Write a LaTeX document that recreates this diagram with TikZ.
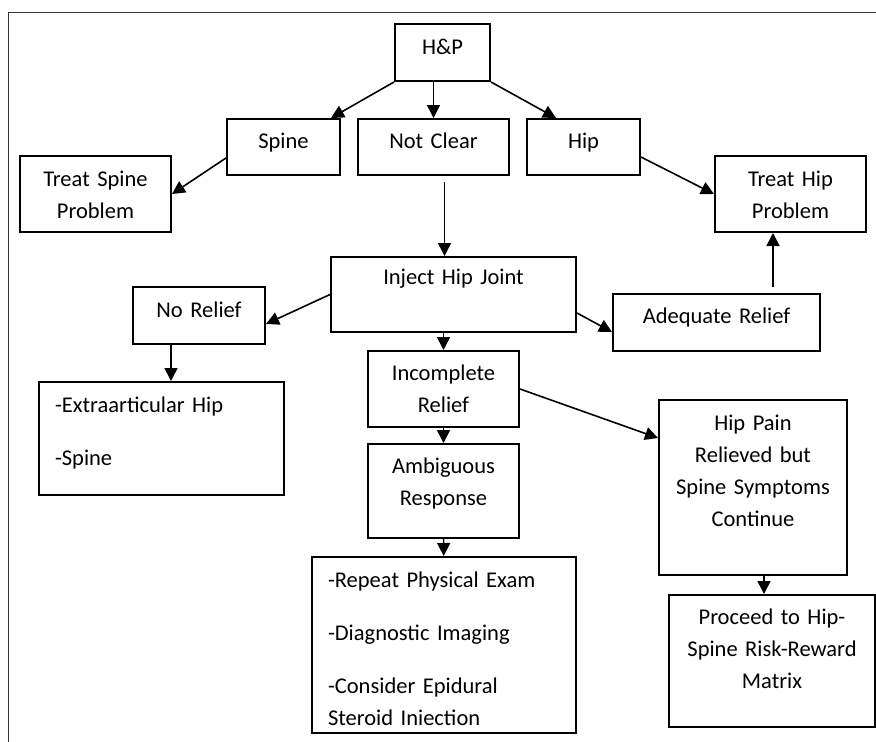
\documentclass[tikz,border=0pt]{standalone}
\usepackage{fontspec}
\setmainfont{Carlito}
\usetikzlibrary{arrows.meta}

\begin{document}
\begin{tikzpicture}[x=1pt,y=-1pt,
    >={Triangle[length=13pt,width=13pt]},
    box/.style={draw,line width=2pt,inner sep=0pt,align=center,font=\fontsize{22.5}{32}\selectfont},
    every path/.append style={line width=1.6pt}]
    \useasboundingbox (0,0) rectangle (876,742);
    \draw[line width=1pt,black!80] (8,742) -- (8,12) -- (876,12);

    \node[box,text width=95pt,text height=30pt,text depth=27pt] (v1) at (442.5,52.5) {H\&P};
    \node[box,text width=113pt,text height=29pt,text depth=27pt] (v2) at (283.5,147) {Spine};
    \node[box,text width=151pt,text height=29pt,text depth=27pt] (v3) at (433.5,147) {Not Clear};
    \node[box,text width=113pt,text height=29pt,text depth=27pt] (v4) at (583.5,147) {Hip};
    \node[box,text width=151pt,text height=30pt,text depth=46pt] (v5) at (95.5,194) {Treat Spine\\Problem};
    \node[box,text width=151pt,text height=30pt,text depth=46pt] (v6) at (790.5,194) {Treat Hip\\Problem};
    \node[box,text width=245pt,text height=27pt,text depth=48pt] (v7) at (453.5,294.5) {Inject Hip Joint};
    \node[box,text width=132pt,text height=30pt,text depth=27pt] (v8) at (199,315.5) {No Relief};
    \node[box,text width=207pt,text height=29pt,text depth=28pt] (v9) at (716.5,322.5) {Adequate Relief};
    \node[box,text width=151pt,text height=29pt,text depth=47pt] (v10) at (443.5,389) {Incomplete\\Relief};
    \node[box,text width=151pt,text height=29pt,text depth=65pt] (v11) at (443.5,491) {Ambiguous\\Response};
    \node[box,align=left,inner xsep=16pt,text width=213pt,text height=30pt,text depth=83pt] (v12) at (161.5,438.5) {-Extraarticular Hip\\[21pt]-Spine};
    \node[box,text width=188pt,text height=30pt,text depth=145pt] (v13) at (753,487.5) {Hip Pain\\Relieved but\\Spine Symptoms\\Continue};
    \node[box,align=left,inner xsep=16pt,text width=232pt,text height=30pt,text depth=146pt] (v14) at (444,645) {-Repeat Physical Exam\\[21pt]-Diagnostic Imaging\\[21pt]-Consider Epidural\\Steroid Iniection};
    \node[box,text width=206pt,text height=29pt,text depth=103pt] (v15) at (772,661) {Proceed to Hip-\\Spine Risk-Reward\\Matrix};

    \draw[->] (v1.south west) -- ([shift={(-10,0)}]v2.north east);
    \draw[->] (v3.north |- v1.south) -- (v3.north);
    \draw[->] (v1.south east) -- ([shift={(30,0)}]v4.north west);
    \draw[->] ([shift={(0,11)}]v2.west) -- (v5.east);
    \draw[->] ([shift={(0,10)}]v4.east) -- (v6.west);
    \draw[->] ([shift={(11,6)}]v3.south) -- ([shift={(-9,0)}]v7.north);
    \draw[->] (v7.west) -- ([shift={(0,8.5)}]v8.east);
    \draw[->] ([shift={(0,18.5)}]v7.east) -- ([shift={(0,9.5)}]v9.west);
    \draw[->] ([shift={(56.5,-6)}]v9.north) -- ([shift={(-17.5,0)}]v6.south);
    \draw[->] ([shift={(-28,0)}]v8.south) -- ([shift={(9.5,0)}]v12.north);
    \draw[->] (v10.north |- v7.south) -- (v10.north);
    \draw[->] (v10) -- (v11);
    \draw[->] (v10.east) -- ([shift={(0,-49.5)}]v13.west);
    \draw[->] (v11) -- (v14);
    \draw[->] ([shift={(11,0)}]v13.south) -- ([shift={(-8,0)}]v15.north);
\end{tikzpicture}
\end{document}
